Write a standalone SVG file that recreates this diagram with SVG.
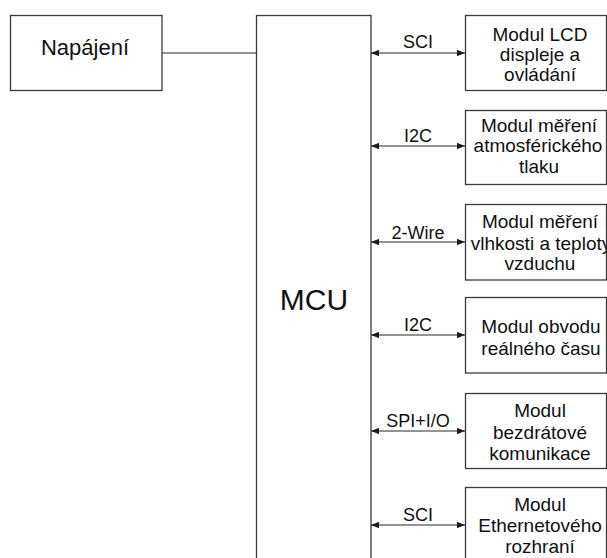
<svg xmlns="http://www.w3.org/2000/svg" width="607" height="558" viewBox="0 0 607 558">
  <style>
    .box { fill: #ffffff; stroke: #3a3a3a; stroke-width: 1.3; }
    .wire { fill: none; stroke: #2a2a2a; stroke-width: 1.2; }
    .t { font-family: "Liberation Sans", Arial, sans-serif; fill: #111; text-anchor: middle; }
    .mod { font-size: 19px; }
    .lbl { font-size: 18px; }
  </style>
  <defs>
    <marker id="ah" viewBox="0 0 10 8" refX="10" refY="4" markerWidth="8" markerHeight="6.4" markerUnits="userSpaceOnUse" orient="auto-start-reverse">
      <path d="M0,0 L10,4 L0,8 Z" fill="#1a1a1a"/>
    </marker>
  </defs>
  <rect width="607" height="558" fill="#ffffff"/>

  <g id="napajeni">
    <rect class="box" x="10.5" y="15.5" width="151.5" height="75"/>
    <text class="t" x="85" y="55" font-size="22">Napájení</text>
  </g>

  <g id="mcu">
    <rect class="box" x="256.5" y="15.5" width="114.5" height="560"/>
    <text class="t" x="314" y="310" font-size="30">MCU</text>
  </g>

  <g id="lcd">
    <rect class="box" x="465.5" y="15.5" width="141" height="75"/>
    <text class="t mod" x="540" y="41">Modul LCD</text>
    <text class="t mod" x="540" y="61">displeje a</text>
    <text class="t mod" x="540" y="81">ovládání</text>
  </g>

  <g id="tlak">
    <rect class="box" x="465.5" y="110.5" width="141" height="74"/>
    <text class="t mod" x="539" y="132">Modul měření</text>
    <text class="t mod" x="538" y="152">atmosférického</text>
    <text class="t mod" x="539" y="173">tlaku</text>
  </g>

  <g id="vlhkost">
    <rect class="box" x="465.5" y="204.5" width="141" height="75.5"/>
    <text class="t mod" x="540" y="228">Modul měření</text>
    <text class="t mod" x="541" y="250">vlhkosti a teploty</text>
    <text class="t mod" x="540" y="270">vzduchu</text>
  </g>

  <g id="rtc">
    <rect class="box" x="465.5" y="297.5" width="141" height="75.5"/>
    <text class="t mod" x="541" y="333">Modul obvodu</text>
    <text class="t mod" x="541" y="355">reálného času</text>
  </g>

  <g id="bezdrat">
    <rect class="box" x="465.5" y="393.5" width="141" height="75"/>
    <text class="t mod" x="540" y="417">Modul</text>
    <text class="t mod" x="540" y="439">bezdrátové</text>
    <text class="t mod" x="540" y="460">komunikace</text>
  </g>

  <g id="ethernet">
    <rect class="box" x="465.5" y="487.5" width="141" height="90"/>
    <text class="t mod" x="540" y="511">Modul</text>
    <text class="t mod" x="540" y="532">Ethernetového</text>
    <text class="t mod" x="540" y="553">rozhraní</text>
  </g>

  <g id="connectors">
    <line class="wire" x1="162" y1="53" x2="256.5" y2="53"/>
    <line class="wire" x1="371" y1="53" x2="465" y2="53" marker-start="url(#ah)" marker-end="url(#ah)"/>
    <line class="wire" x1="371" y1="146" x2="465" y2="146" marker-start="url(#ah)" marker-end="url(#ah)"/>
    <line class="wire" x1="371" y1="242" x2="465" y2="242" marker-start="url(#ah)" marker-end="url(#ah)"/>
    <line class="wire" x1="371" y1="335" x2="465" y2="335" marker-start="url(#ah)" marker-end="url(#ah)"/>
    <line class="wire" x1="371" y1="431" x2="465" y2="431" marker-start="url(#ah)" marker-end="url(#ah)"/>
    <line class="wire" x1="371" y1="525" x2="465" y2="525" marker-start="url(#ah)" marker-end="url(#ah)"/>
    <text class="t lbl" x="418" y="48">SCI</text>
    <text class="t lbl" x="418" y="142">I2C</text>
    <text class="t lbl" x="418" y="239">2-Wire</text>
    <text class="t lbl" x="418" y="331">I2C</text>
    <text class="t lbl" x="418" y="427">SPI+I/O</text>
    <text class="t lbl" x="418" y="521">SCI</text>
  </g>
</svg>
